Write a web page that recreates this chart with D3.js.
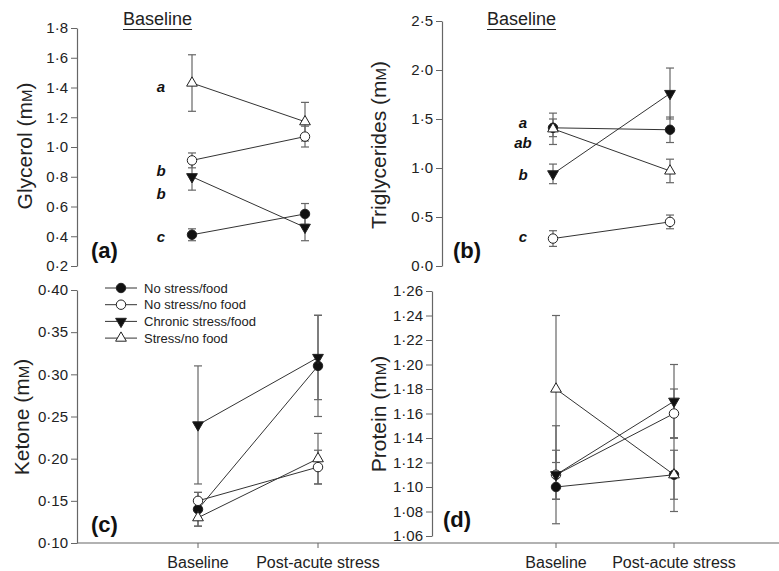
<!DOCTYPE html>
<html lang="en">
<head>
<meta charset="UTF-8">
<title>Blood metabolites</title>
<script src="https://d3js.org/d3.v7.min.js"></script>
<style>
    body { margin: 0; background: #fff; }
    svg { display: block; font-family: "Liberation Sans", Arial, sans-serif; }
</style>
</head>
<body>
<svg id="chart" width="779" height="571"></svg>
<script>
    // groups and time points
    const groups = ["No stress/food", "No stress/no food", "Chronic stress/food", "Stress/no food"];
    const times = ["Baseline", "Post-acute stress"];

    // means [baseline, post] and +/- error, one row per group
    const glycerolMean = [[0.41, 0.55], [0.91, 1.07], [0.80, 0.46], [1.43, 1.17]];
    const glycerolErr  = [[0.04, 0.07], [0.05, 0.07], [0.09, 0.09], [0.19, 0.13]];
    const trigMean = [[1.41, 1.39], [0.28, 0.45], [0.94, 1.76], [1.40, 0.97]];
    const trigErr  = [[0.09, 0.13], [0.08, 0.07], [0.10, 0.26], [0.16, 0.12]];
    const ketoneMean = [[0.14, 0.31], [0.15, 0.19], [0.24, 0.32], [0.13, 0.20]];
    const ketoneErr  = [[0.02, 0.06], [0.01, 0.02], [0.07, 0.05], [0.01, 0.03]];
    const proteinMean = [[1.10, 1.11], [1.11, 1.16], [1.11, 1.17], [1.18, 1.11]];
    const proteinErr  = [[0.01, 0.02], [0.02, 0.02], [0.04, 0.03], [0.06, 0.03]];

    // tick values
    const glycerolTicks = [0.2, 0.4, 0.6, 0.8, 1.0, 1.2, 1.4, 1.6, 1.8];
    const trigTicks = [0.0, 0.5, 1.0, 1.5, 2.0, 2.5];
    const ketoneTicks = [0.10, 0.15, 0.20, 0.25, 0.30, 0.35, 0.40];
    const proteinTicks = [1.06, 1.08, 1.10, 1.12, 1.14, 1.16, 1.18, 1.20, 1.22, 1.24, 1.26];

    // baseline significance letters (text, level in axis units)
    const glycerolLetters = [["a", 1.37], ["b", 0.805], ["b", 0.65], ["c", 0.36]];
    const trigLetters = [["a", 1.41], ["ab", 1.20], ["b", 0.88], ["c", 0.245]];

    const svg = d3.select("#chart");
    const lineCol = "#333", axisCol = "#666", textCol = "#222";

    const panels = [
        { name: "(a)", title: "Glycerol", mean: glycerolMean, err: glycerolErr, ticks: glycerolTicks, fmt: ".1f",
          ax: 77, y0: 266, y1: 28, dom: [0.2, 1.8], xs: [192, 305], letters: glycerolLetters, letterX: 161,
          titleX: 32, titleY: 146, lab: [91, 258], baseTitle: 123 },
        { name: "(b)", title: "Triglycerides", mean: trigMean, err: trigErr, ticks: trigTicks, fmt: ".1f",
          ax: 442, y0: 266, y1: 21, dom: [0, 2.5], xs: [553, 670], letters: trigLetters, letterX: 523,
          titleX: 386, titleY: 145, lab: [453, 258], baseTitle: 487 },
        { name: "(c)", title: "Ketone", mean: ketoneMean, err: ketoneErr, ticks: ketoneTicks, fmt: ".2f",
          ax: 77, y0: 543, y1: 290, dom: [0.10, 0.40], xs: [198, 318], xAxis: [77, 432],
          titleX: 29, titleY: 417, lab: [91, 532], legend: true },
        { name: "(d)", title: "Protein", mean: proteinMean, err: proteinErr, ticks: proteinTicks, fmt: ".2f",
          ax: 432, y0: 536, y1: 291, dom: [1.06, 1.26], xs: [556, 674], xAxis: [432, 779],
          titleX: 386, titleY: 414, lab: [443, 527] }
    ];

    const symbols = [
        { type: d3.symbolCircle, size: 70, fill: "#111", rot: 0 },
        { type: d3.symbolCircle, size: 70, fill: "#fff", rot: 0 },
        { type: d3.symbolTriangle, size: 50, fill: "#111", rot: 180 },
        { type: d3.symbolTriangle, size: 50, fill: "#fff", rot: 0 }
    ];

    function drawMarker(g, i, x, y) {
        const s = symbols[i];
        g.append("path")
            .attr("d", d3.symbol().type(s.type).size(s.size)())
            .attr("transform", `translate(${x},${y}) rotate(${s.rot})`)
            .attr("fill", s.fill)
            .attr("stroke", "#222")
            .attr("stroke-width", 1);
    }

    panels.forEach(p => {
        const g = svg.append("g");
        const y = d3.scaleLinear().domain(p.dom).range([p.y0, p.y1]);
        const x = d3.scalePoint().domain(times).range(p.xs);
        const fmt = d3.format(p.fmt);

        // y axis
        const yAxis = d3.axisLeft(y).tickValues(p.ticks).tickSize(6).tickSizeOuter(0).tickPadding(3)
            .tickFormat(d => fmt(d).replace(".", "\u00b7"));
        const ya = g.append("g").attr("transform", `translate(${p.ax},0)`).call(yAxis);
        ya.select(".domain").attr("stroke", axisCol).attr("stroke-width", 1.2);
        ya.selectAll(".tick line").attr("stroke", axisCol);
        ya.selectAll(".tick text").attr("fill", textCol).style("font-size", "15px")
            .style("font-family", "'Liberation Sans', Arial, sans-serif");

        // x axis for bottom panels
        if (p.xAxis) {
            g.append("line").attr("x1", p.xAxis[0]).attr("x2", p.xAxis[1])
                .attr("y1", 543).attr("y2", 543).attr("stroke", axisCol).attr("stroke-width", 1.2);
            times.forEach(t => {
                g.append("line").attr("x1", x(t)).attr("x2", x(t)).attr("y1", 543).attr("y2", 548)
                    .attr("stroke", axisCol);
                g.append("text").attr("x", x(t)).attr("y", 568).attr("text-anchor", "middle")
                    .attr("fill", textCol).style("font-size", "16px").text(t);
            });
        }

        // y title
        const tt = g.append("text")
            .attr("transform", `translate(${p.titleX},${p.titleY}) rotate(-90)`)
            .attr("text-anchor", "middle").attr("fill", textCol).style("font-size", "21px");
        tt.append("tspan").text(p.title + " (m");
        tt.append("tspan").style("font-size", "15px").text("M");
        tt.append("tspan").text(")");

        // panel label
        g.append("text").attr("x", p.lab[0]).attr("y", p.lab[1]).attr("fill", "#111")
            .style("font-size", "22px").style("font-weight", "bold").text(p.name);

        // Baseline heading
        if (p.baseTitle) {
            const bt = g.append("text").attr("x", p.baseTitle).attr("y", 25).attr("fill", textCol)
                .style("font-size", "18px").text("Baseline");
            const w = bt.node().getComputedTextLength();
            g.append("line").attr("x1", p.baseTitle).attr("x2", p.baseTitle + w)
                .attr("y1", 29.5).attr("y2", 29.5).attr("stroke", textCol).attr("stroke-width", 1.2);
        }

        // letters
        if (p.letters) {
            p.letters.forEach(([t, v]) => {
                g.append("text").attr("x", p.letterX).attr("y", y(v)).attr("text-anchor", "middle")
                    .attr("fill", "#111").style("font-size", "15px").style("font-weight", "bold")
                    .style("font-style", "italic").text(t);
            });
        }

        // error bars
        p.mean.forEach((row, i) => {
            row.forEach((m, j) => {
                const e = p.err[i][j], cx = x(times[j]);
                g.append("line").attr("x1", cx).attr("x2", cx).attr("y1", y(m - e)).attr("y2", y(m + e))
                    .attr("stroke", axisCol).attr("stroke-width", 1.2);
                [m - e, m + e].forEach(v => {
                    g.append("line").attr("x1", cx - 4).attr("x2", cx + 4).attr("y1", y(v)).attr("y2", y(v))
                        .attr("stroke", axisCol).attr("stroke-width", 1.2);
                });
            });
        });

        // connecting lines
        const line = d3.line().x((d, j) => x(times[j])).y(d => y(d));
        p.mean.forEach(row => {
            g.append("path").attr("d", line(row)).attr("fill", "none").attr("stroke", lineCol).attr("stroke-width", 1);
        });

        // markers
        p.mean.forEach((row, i) => {
            row.forEach((m, j) => drawMarker(g, i, x(times[j]), y(m)));
        });

        // legend
        if (p.legend) {
            groups.forEach((name, i) => {
                const ly = 288 + i * 16.7;
                g.append("line").attr("x1", 105).attr("x2", 137).attr("y1", ly).attr("y2", ly)
                    .attr("stroke", lineCol).attr("stroke-width", 1);
                drawMarker(g, i, 121, ly);
                g.append("text").attr("x", 144).attr("y", ly + 4.5).attr("fill", textCol)
                    .style("font-size", "13px").text(name);
            });
        }
    });
</script>
</body>
</html>
